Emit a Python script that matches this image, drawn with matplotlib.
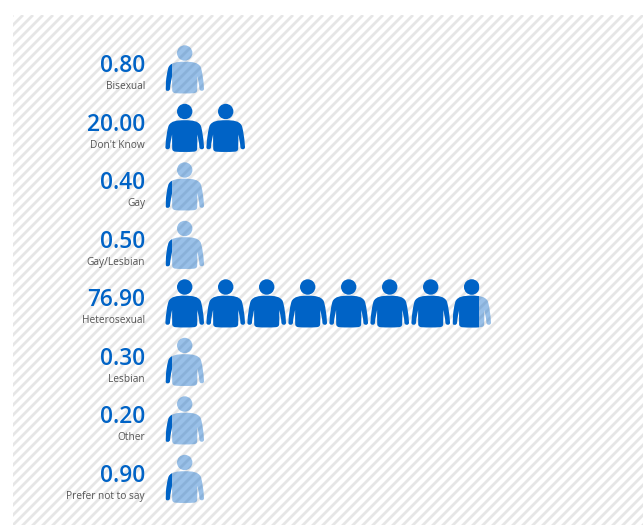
import numpy as np
import matplotlib
matplotlib.use("Agg")
import matplotlib.pyplot as plt
from matplotlib.path import Path
from matplotlib.patches import PathPatch, Rectangle

categories = ["Bisexual", "Don't Know", "Gay", "Gay/Lesbian", "Heterosexual",
              "Lesbian", "Other", "Prefer not to say"]
values = [0.80, 20.00, 0.40, 0.50, 76.90, 0.30, 0.20, 0.90]

UNITS_PER_ICON = 10
MIN_FILL = 0.18  # small values still show one arm of the figure
BLUE = "#0063c6"
ROW_TOP = 53
ROW_STEP = 58.5
ICON_X = 184.7
ICON_STEP = 41
ICON_HALF = 19.2
TEXT_RIGHT = 145

plt.rcParams["font.family"] = ["Open Sans", "DejaVu Sans"]


def person_path(cx, cy):
    # head plus torso with both arms, cy is the centre of the head
    verts = [(0, 8.7),
             (-8, 8.7), (-13.5, 9.5), (-16, 14),
             (-17.5, 18), (-18.8, 27), (-19.3, 35.5),
             (-19.5, 38.6), (-14.8, 38.6), (-14.7, 35.5),
             (-14.4, 31), (-13.5, 27), (-12.6, 23),
             (-12.6, 28), (-12.6, 33), (-12.5, 37),
             (-12.4, 39.5), (-11, 40), (-9, 40.2),
             (-3, 40.6), (3, 40.6), (9, 40.2),
             (11, 40), (12.4, 39.5), (12.5, 37),
             (12.6, 33), (12.6, 28), (12.6, 23),
             (13.5, 27), (14.4, 31), (14.7, 35.5),
             (14.8, 38.6), (19.5, 38.6), (19.3, 35.5),
             (18.8, 27), (17.5, 18), (16, 14),
             (13.5, 9.5), (8, 8.7), (0, 8.7),
             (0, 8.7)]
    codes = [Path.MOVETO] + [Path.CURVE4] * 39 + [Path.CLOSEPOLY]
    body = Path(np.array(verts) + [cx, cy], codes)
    head = Path.circle((cx, cy), 7.7)
    return Path.make_compound_path(head, body)


fig = plt.figure(figsize=(6.43, 5.25), dpi=100)
ax = fig.add_axes([0, 0, 1, 1])
ax.set_xlim(0, 643)
ax.set_ylim(525, 0)
ax.axis("off")

# striped panel behind the chart
panel = Rectangle((13, 15), 630, 510, facecolor="white", edgecolor="none")
ax.add_patch(panel)
for start in np.arange(13, 1200, 10):
    stripe, = ax.plot([start, start - 520], [15, 535], color="#e6e6e6", lw=2.0,
                      solid_capstyle="butt", zorder=1)
    stripe.set_clip_path(panel)

for row, (name, value) in enumerate(zip(categories, values)):
    cy = ROW_TOP + row * ROW_STEP
    ax.text(TEXT_RIGHT, cy + 19.3, f"{value:.2f}", ha="right", va="baseline",
            fontsize=16.3, fontweight="semibold", color=BLUE, zorder=3)
    ax.text(TEXT_RIGHT, cy + 36, name, ha="right", va="baseline",
            fontsize=7.3, color="#555555", zorder=3)

    full = int(value // UNITS_PER_ICON)
    part = value / UNITS_PER_ICON - full
    for i in range(full):
        ax.add_patch(PathPatch(person_path(ICON_X + i * ICON_STEP, cy),
                               facecolor=BLUE, edgecolor="none", zorder=2))
    if part > 0:
        cx = ICON_X + full * ICON_STEP
        left = cx - ICON_HALF
        fill = max(part, MIN_FILL)
        shape = person_path(cx, cy)
        ax.add_patch(PathPatch(shape, facecolor=BLUE, alpha=0.4,
                               edgecolor="none", zorder=2))
        dark = PathPatch(shape, facecolor=BLUE, edgecolor="none", zorder=2)
        ax.add_patch(dark)
        dark.set_clip_path(Rectangle((left, cy - 10), fill * 2 * ICON_HALF, 60,
                                     transform=ax.transData))

fig.savefig("out.png", dpi=100, facecolor="white")
